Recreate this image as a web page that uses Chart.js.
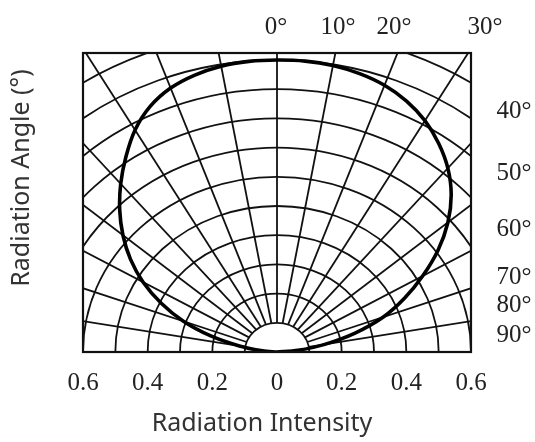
<!DOCTYPE html>
<html>
<head>
<meta charset="utf-8">
<script src="https://cdn.jsdelivr.net/npm/chart.js@4.4.1/dist/chart.umd.min.js"></script>
<style>
  html, body { margin: 0; padding: 0; background: #fff; }
  #wrap { width: 535px; height: 442px; }
</style>
</head>
<body>
<div id="wrap"><canvas id="chart"></canvas></div>
<script>
// radiation pattern (angle in degrees, relative intensity)
const ANGLES = [0, 5, 10, 15, 20, 25, 30, 35, 40, 45, 50, 55, 60, 65, 70, 75, 80, 85, 90];
const RIGHT_INTENSITY = [1.0, 1.0, 0.996, 0.987, 0.972, 0.948, 0.915, 0.872, 0.822, 0.762, 0.69, 0.608, 0.52, 0.435, 0.35, 0.25, 0.15, 0.065, 0];
const LEFT_INTENSITY = [1.0, 0.999, 0.994, 0.982, 0.962, 0.928, 0.878, 0.815, 0.752, 0.688, 0.622, 0.553, 0.478, 0.395, 0.308, 0.212, 0.118, 0.045, 0];

const X_TICKS = [-0.6, -0.4, -0.2, 0, 0.2, 0.4, 0.6];
const RINGS = [0.1, 0.2, 0.3, 0.4, 0.5, 0.6, 0.7, 0.8, 0.9, 1.0, 1.1, 1.2];
const SPOKES = [-80, -70, -60, -50, -40, -30, -20, -10, 0, 10, 20, 30, 40, 50, 60, 70, 80];
const TOP_LABELS = ['0°', '10°', '20°', '30°'];
const SIDE_LABELS = ['40°', '50°', '60°', '70°', '80°', '90°'];

const rad = (d) => d * Math.PI / 180;

// left half from 90° up to 0°, then right half down to 90°
const pattern = [];
for (let i = ANGLES.length - 1; i > 0; i--) {
  const t = rad(ANGLES[i]);
  pattern.push({ x: -LEFT_INTENSITY[i] * Math.sin(t), y: LEFT_INTENSITY[i] * Math.cos(t) });
}
ANGLES.forEach((a, i) => {
  const t = rad(a);
  pattern.push({ x: RIGHT_INTENSITY[i] * Math.sin(t), y: RIGHT_INTENSITY[i] * Math.cos(t) });
});

const SERIF = '"Liberation Serif", "DejaVu Serif", serif';
const SANS = '"Noto Sans", "DejaVu Sans", sans-serif';

const polarGrid = {
  id: 'polarGrid',
  beforeDatasetsDraw(chart) {
    const { ctx, chartArea: a } = chart;
    const { x, y } = chart.scales;
    const cx = x.getPixelForValue(0);
    const cy = y.getPixelForValue(0);
    ctx.save();
    ctx.beginPath();
    ctx.rect(a.left, a.top, a.right - a.left, a.bottom - a.top);
    ctx.clip();
    ctx.strokeStyle = '#111';
    ctx.lineWidth = 1.8;
    RINGS.forEach((r) => {
      ctx.beginPath();
      ctx.ellipse(cx, cy, x.getPixelForValue(r) - cx, cy - y.getPixelForValue(r), 0, Math.PI, 2 * Math.PI);
      ctx.stroke();
    });
    SPOKES.forEach((d) => {
      const t = rad(d);
      const r0 = RINGS[0];
      const r1 = 2;
      ctx.beginPath();
      ctx.moveTo(x.getPixelForValue(r0 * Math.sin(t)), y.getPixelForValue(r0 * Math.cos(t)));
      ctx.lineTo(x.getPixelForValue(r1 * Math.sin(t)), y.getPixelForValue(r1 * Math.cos(t)));
      ctx.stroke();
    });
    ctx.restore();
  },
  afterDatasetsDraw(chart) {
    const { ctx, chartArea: a } = chart;
    ctx.save();
    ctx.strokeStyle = '#111';
    ctx.lineWidth = 2.2;
    ctx.strokeRect(a.left, a.top, a.right - a.left, a.bottom - a.top);
    ctx.restore();
  },
  afterDraw(chart) {
    const ctx = chart.ctx;
    ctx.save();
    ctx.fillStyle = '#222';
    ctx.font = '25px ' + SERIF;
    ctx.textAlign = 'center';
    ctx.textBaseline = 'middle';
    const topX = [276, 338, 394, 485];
    TOP_LABELS.forEach((s, i) => ctx.fillText(s, topX[i], 27));
    const sideY = [111, 173, 229, 277, 305, 335];
    SIDE_LABELS.forEach((s, i) => ctx.fillText(s, 514, sideY[i]));

    ctx.font = '25px ' + SANS;
    ctx.fillStyle = '#333';
    ctx.fillText('Radiation Intensity', 262, 424);
    ctx.translate(22, 178);
    ctx.rotate(-Math.PI / 2);
    ctx.fillText('Radiation Angle (°)', 0, 0);
    ctx.restore();
  }
};

new Chart(document.getElementById('chart'), {
  type: 'scatter',
  data: {
    datasets: [{
      data: pattern,
      showLine: true,
      borderColor: '#000',
      borderWidth: 3.6,
      pointRadius: 0,
      tension: 0.3
    }]
  },
  options: {
    responsive: true,
    maintainAspectRatio: false,
    animation: false,
    layout: { padding: { left: 83, right: 64, top: 53, bottom: 0 } },
    plugins: { legend: { display: false }, tooltip: { enabled: false } },
    scales: {
      x: {
        type: 'linear',
        min: -0.6,
        max: 0.6,
        afterBuildTicks(scale) { scale.ticks = X_TICKS.map((v) => ({ value: v })); },
        afterFit(scale) { scale.height = 90; },
        grid: { display: false, drawTicks: false },
        border: { display: false },
        ticks: {
          color: '#222',
          padding: 16,
          maxRotation: 0,
          autoSkip: false,
          font: { family: SERIF, size: 25 },
          callback: (v) => (v === 0 ? '0' : Math.abs(v).toFixed(1))
        }
      },
      y: {
        type: 'linear',
        min: 0,
        max: 1.024,
        display: false
      }
    }
  },
  plugins: [polarGrid]
});
</script>
</body>
</html>
